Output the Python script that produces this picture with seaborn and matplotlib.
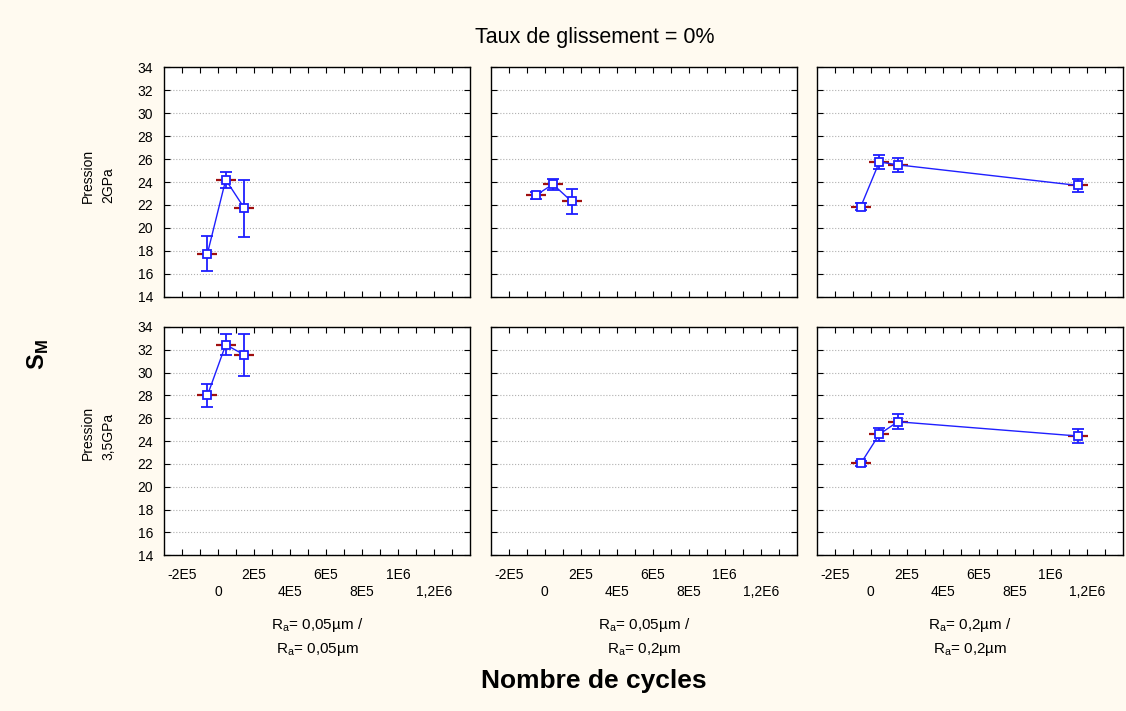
import numpy as np
import pandas as pd
import matplotlib.pyplot as plt
import seaborn as sns

sns.set_style("ticks")
plt.rcParams['font.family'] = ['Liberation Sans', 'DejaVu Sans']
plt.rcParams['mathtext.fontset'] = 'custom'
plt.rcParams['mathtext.rm'] = 'Liberation Sans'
plt.rcParams['mathtext.bf'] = 'Liberation Sans:bold'
plt.rcParams['text.color'] = 'black'
plt.rcParams['xtick.color'] = 'black'
plt.rcParams['ytick.color'] = 'black'
plt.rcParams['axes.labelcolor'] = 'black'

# valeurs (nombre de cycles, S_M, demi-intervalle)
cycles_2gpa_a = [-5.9e4, 4.3e4, 1.47e5]
sm_2gpa_a = [17.75, 24.2, 21.7]
err_2gpa_a = [1.5, 0.7, 2.5]

cycles_2gpa_b = [-4.9e4, 4.6e4, 1.5e5]
sm_2gpa_b = [22.85, 23.8, 22.3]
err_2gpa_b = [0.3, 0.5, 1.05]

cycles_2gpa_c = [-5.5e4, 4.8e4, 1.5e5, 1.15e6]
sm_2gpa_c = [21.85, 25.75, 25.5, 23.7]
err_2gpa_c = [0.3, 0.6, 0.6, 0.6]

cycles_35gpa_a = [-5.9e4, 4.3e4, 1.47e5]
sm_35gpa_a = [28.0, 32.45, 31.55]
err_35gpa_a = [1.0, 0.9, 1.8]

cycles_35gpa_b = []
sm_35gpa_b = []
err_35gpa_b = []

cycles_35gpa_c = [-5.5e4, 4.8e4, 1.5e5, 1.15e6]
sm_35gpa_c = [22.05, 24.6, 25.7, 24.45]
err_35gpa_c = [0.2, 0.55, 0.65, 0.6]

row_labels = ["Pression\n2GPa", "Pression\n3,5GPa"]
col_labels = [r"R$_\mathrm{a}$= 0,05µm /" + "\n" + r"R$_\mathrm{a}$= 0,05µm",
              r"R$_\mathrm{a}$= 0,05µm /" + "\n" + r"R$_\mathrm{a}$= 0,2µm",
              r"R$_\mathrm{a}$= 0,2µm /" + "\n" + r"R$_\mathrm{a}$= 0,2µm"]
xtick_values = [-2e5, 0, 2e5, 4e5, 6e5, 8e5, 1e6, 1.2e6]
xtick_labels = ["-2E5", "0", "2E5", "4E5", "6E5", "8E5", "1E6", "1,2E6"]
ytick_values = [14, 16, 18, 20, 22, 24, 26, 28, 30, 32, 34]

panels = [
    (0, 0, cycles_2gpa_a, sm_2gpa_a, err_2gpa_a),
    (0, 1, cycles_2gpa_b, sm_2gpa_b, err_2gpa_b),
    (0, 2, cycles_2gpa_c, sm_2gpa_c, err_2gpa_c),
    (1, 0, cycles_35gpa_a, sm_35gpa_a, err_35gpa_a),
    (1, 1, cycles_35gpa_b, sm_35gpa_b, err_35gpa_b),
    (1, 2, cycles_35gpa_c, sm_35gpa_c, err_35gpa_c),
]

W, H = 1126, 711
fig = plt.figure(figsize=(W / 100, H / 100), dpi=100, facecolor='#FFFAF0')

lefts = [164, 490.7, 816.7]
tops = [67.3, 327]
heights = [229.4, 228.3]
pw = 306

blue = '#1f1fff'

for row, col, cyc, sm, err in panels:
    ax = fig.add_axes([lefts[col] / W, 1 - (tops[row] + heights[row]) / H,
                       pw / W, heights[row] / H])
    ax.set_facecolor('white')
    if len(cyc) > 0:
        df = pd.DataFrame({'cycles': cyc, 'sm': sm, 'err': err})
        ax.errorbar(df['cycles'], df['sm'], yerr=df['err'], fmt='none',
                    ecolor=blue, elinewidth=1.3, capsize=4, capthick=1.3, zorder=2)
        ax.plot(df['cycles'], df['sm'], linestyle='none', marker='_',
                markersize=14, markeredgewidth=1.6, color='#a01010', zorder=2.5)
        sns.lineplot(data=df, x='cycles', y='sm', ax=ax, color=blue,
                     linewidth=1.0, marker='s', markersize=6,
                     markerfacecolor='white', markeredgecolor=blue,
                     markeredgewidth=1.3, zorder=3)
    ax.set_xlim(-3e5, 1.4e6)
    ax.set_ylim(14, 34)
    ax.set_xticks(xtick_values)
    ax.set_xticks(np.arange(-2e5, 1.35e6, 1e5), minor=True)
    ax.set_yticks(ytick_values)
    ax.yaxis.grid(True, linestyle=':', color='#b0b0b0', linewidth=0.8)
    ax.tick_params(which='both', direction='in', top=True, right=True,
                   length=4, width=0.8, color='black', labelsize=10)
    ax.tick_params(axis='y', pad=8)
    ax.tick_params(axis='x', pad=9)
    if row == 1:
        ax.set_xticklabels([("\n" + t) if i % 2 == 1 else t
                            for i, t in enumerate(xtick_labels)],
                           linespacing=1.25)
    else:
        ax.set_xticklabels([])
    if col != 0:
        ax.set_yticklabels([])
    ax.set_xlabel("")
    ax.set_ylabel("")
    for s in ax.spines.values():
        s.set_color('black')
        s.set_linewidth(1.0)

fig.text(595 / W, 1 - 37 / H, "Taux de glissement = 0%", ha='center',
         va='center', fontsize=15.5)
fig.text(594 / W, 1 - 681 / H, "Nombre de cycles", ha='center', va='center',
         fontsize=19, fontweight='bold')
fig.text(38 / W, 1 - 355 / H, r"$\mathbf{S}_\mathbf{M}$", rotation=90,
         ha='center', va='center', fontsize=17)

row_centers = [176, 432.5]
for i, lab in enumerate(row_labels):
    fig.text(98 / W, 1 - row_centers[i] / H, lab, rotation=90, ha='center',
             va='center', multialignment='left', fontsize=10, linespacing=1.6)

for j, lab in enumerate(col_labels):
    fig.text((lefts[j] + pw / 2) / W, 1 - 637 / H, lab, ha='center',
             va='center', fontsize=11, linespacing=1.5)

fig.savefig("out.png", dpi=100, facecolor=fig.get_facecolor())
